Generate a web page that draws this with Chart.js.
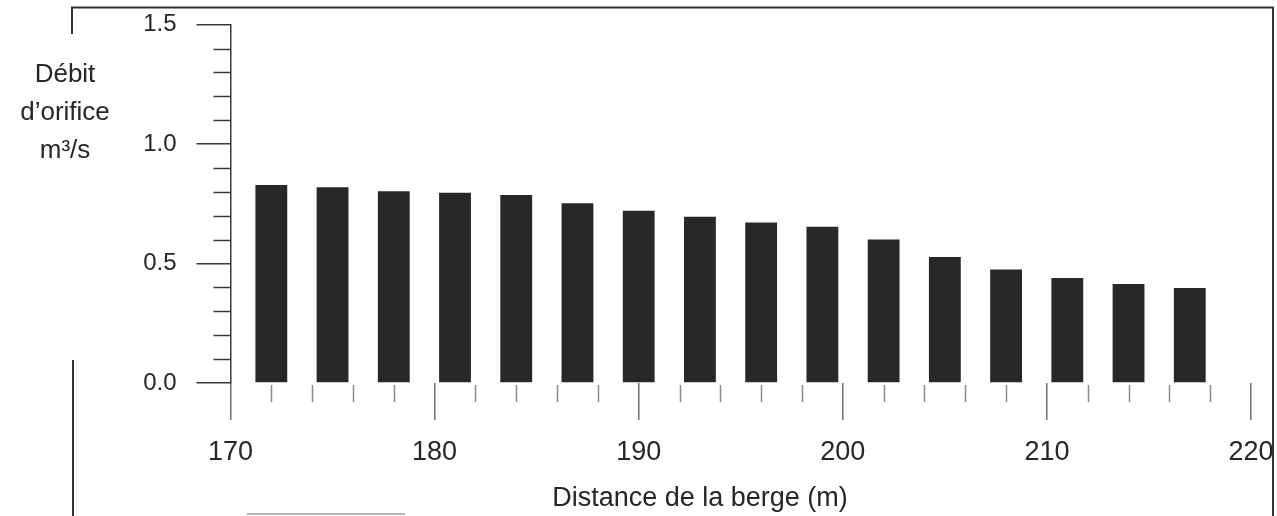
<!DOCTYPE html>
<html lang="fr">
<head>
<meta charset="utf-8">
<title>Débit d'orifice selon la distance de la berge</title>
<script src="https://cdn.jsdelivr.net/npm/chart.js@4.4.1/dist/chart.umd.min.js"></script>
<style>
  html, body { margin: 0; padding: 0; background: #ffffff; }
  #wrap { position: relative; width: 1277px; height: 516px; }
  canvas { display: block; }
</style>
</head>
<body>
<div id="wrap"><canvas id="chart" width="1277" height="516"></canvas></div>
<script>
// Distance from the bank (m) and orifice discharge (m3/s) for each gate
const distances = [172, 175, 178, 181, 184, 187, 190, 193, 196, 199, 202, 205, 208, 211, 214, 217];
const debits = [0.829, 0.819, 0.803, 0.796, 0.787, 0.752, 0.721, 0.696, 0.672, 0.654, 0.601, 0.528, 0.475, 0.440, 0.414, 0.398];

// Axis tick values
const xMajorTicks = [170, 180, 190, 200, 210, 220];
const xMinorTicks = [172, 174, 176, 178, 182, 184, 186, 188, 192, 194, 196, 198, 202, 204, 206, 208, 212, 214, 216, 218];
const yMajorTicks = [0.0, 0.5, 1.0, 1.5];
const yMinorTicks = [0.1, 0.2, 0.3, 0.4, 0.6, 0.7, 0.8, 0.9, 1.1, 1.2, 1.3, 1.4];

// Axis titles
const xTitle = 'Distance de la berge (m)';
const yTitleLines = ['Débit', 'd\u2019orifice', 'm\u00B3/s'];

const FONT = '"Liberation Sans", Arial, Helvetica, sans-serif';
const INK = '#262626';

// Minor tick marks, axis titles and the page frame
const decorations = {
  id: 'decorations',
  afterDraw(chart) {
    const { ctx, scales: { x, y }, chartArea: area } = chart;
    ctx.save();

    // minor ticks on the value axis
    ctx.strokeStyle = '#3a3a3a';
    ctx.lineWidth = 1.5;
    yMinorTicks.forEach(v => {
      const py = Math.round(y.getPixelForValue(v)) + 0.5;
      ctx.beginPath();
      ctx.moveTo(area.left - 17, py);
      ctx.lineTo(area.left, py);
      ctx.stroke();
    });

    // minor ticks below the distance axis
    ctx.strokeStyle = '#8a8a8a';
    ctx.lineWidth = 1.5;
    xMinorTicks.forEach(v => {
      const px = Math.round(x.getPixelForValue(v)) + 0.5;
      ctx.beginPath();
      ctx.moveTo(px, area.bottom + 2);
      ctx.lineTo(px, area.bottom + 19);
      ctx.stroke();
    });

    // y title, three centred lines
    ctx.fillStyle = INK;
    ctx.font = '26px ' + FONT;
    ctx.textAlign = 'center';
    ctx.textBaseline = 'middle';
    const lineGap = 38;
    yTitleLines.forEach((t, i) => ctx.fillText(t, 65, 75 + i * lineGap));

    // x title
    ctx.font = '27px ' + FONT;
    ctx.fillText(xTitle, 700, 499);

    // frame
    const W = chart.width, H = chart.height;
    ctx.strokeStyle = '#333';
    ctx.lineWidth = 2;
    ctx.beginPath();
    ctx.moveTo(72, 34);
    ctx.lineTo(72, 7.5);
    ctx.lineTo(W - 4, 7.5);
    ctx.lineTo(W - 4, H);
    ctx.stroke();
    ctx.beginPath();
    ctx.moveTo(73, 360);
    ctx.lineTo(73, H);
    ctx.stroke();
    ctx.strokeStyle = '#b5b5b5';
    ctx.lineWidth = 2;
    ctx.beginPath();
    ctx.moveTo(247, H - 2);
    ctx.lineTo(405, H - 2);
    ctx.stroke();

    ctx.restore();
  }
};

new Chart(document.getElementById('chart'), {
  type: 'bar',
  data: {
    datasets: [{
      data: distances.map((d, i) => ({ x: d, y: debits[i] })),
      backgroundColor: '#282828',
      borderWidth: 0,
      categoryPercentage: 1.0,
      barPercentage: 0.52
    }]
  },
  options: {
    responsive: false,
    animation: false,
    events: [],
    layout: { padding: { top: 24.7, right: 26, left: 0, bottom: 0 } },
    plugins: { legend: { display: false }, tooltip: { enabled: false } },
    scales: {
      x: {
        type: 'linear',
        min: 170,
        max: 220,
        offset: false,
        afterFit(scale) {
          scale.height = 133;
          scale.paddingLeft = 0;
          scale.paddingRight = 0;
        },
        afterBuildTicks(scale) { scale.ticks = xMajorTicks.map(v => ({ value: v })); },
        border: { display: false },
        grid: { display: true, offset: false, drawOnChartArea: false, drawTicks: true, tickLength: 37, color: '#6e6e6e', lineWidth: 1.5 },
        ticks: {
          color: INK,
          font: { family: FONT, size: 27 },
          padding: 16,
          maxRotation: 0,
          callback: v => String(v)
        }
      },
      y: {
        min: 0,
        max: 1.5,
        afterFit(scale) {
          scale.width = 230.5;
          scale.paddingTop = 0;
          scale.paddingBottom = 0;
        },
        afterBuildTicks(scale) { scale.ticks = yMajorTicks.map(v => ({ value: v })); },
        border: { display: true, color: '#3a3a3a', width: 1.5 },
        grid: { display: true, drawOnChartArea: false, drawTicks: true, tickLength: 34, color: '#3a3a3a', lineWidth: 1.5 },
        ticks: {
          color: INK,
          font: { family: FONT, size: 24 },
          padding: 20,
          callback: v => Number(v).toFixed(1)
        }
      }
    }
  },
  plugins: [decorations]
});
</script>
</body>
</html>
